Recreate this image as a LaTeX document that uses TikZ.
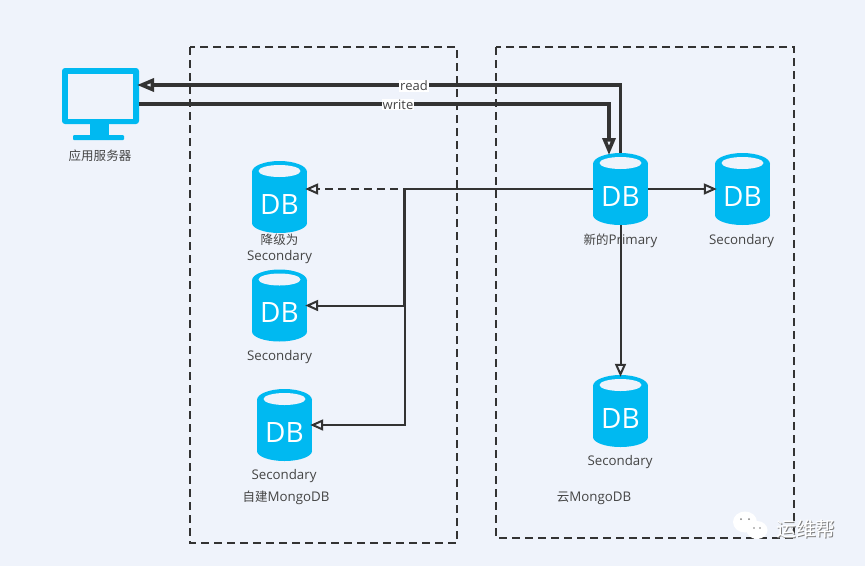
\documentclass[tikz,border=0pt]{standalone}
\usepackage{fontspec}
\setmainfont{Open Sans}
\newfontfamily\cjk[Scale=0.94]{Noto Sans CJK SC}
\usepackage{tikz}
\usetikzlibrary{arrows.meta, positioning}
\definecolor{bgcol}{HTML}{EFF3FB}
\definecolor{dbcol}{HTML}{00B9F1}
\definecolor{linecol}{HTML}{333333}
\definecolor{txtcol}{HTML}{444444}
\tikzset{
  dbnode/.style={rectangle, inner sep=0pt, minimum width=55pt, minimum height=72pt, text=white,
    font=\fontsize{28}{28}\selectfont},
  lbl/.style={inner sep=0pt, text=txtcol, font=\fontsize{13.3}{15.5}\selectfont, align=center},
  zonebox/.style={linecol, line width=2pt, dash pattern=on 8pt off 5pt},
  thickline/.style={linecol, line width=3.5pt},
  thinline/.style={linecol, line width=2pt},
  bigtip/.style={-{Triangle[open, length=17pt, width=13pt, line width=3.5pt]}, shorten >=-2pt},
  smalltip/.style={-{Triangle[open, length=13pt, width=11pt, line width=2pt]}, shorten >=-2pt},
  linelbl/.style={fill=white, inner sep=1pt, text=txtcol, font=\fontsize{13}{13}\selectfont},
}
% cylinder with its DB text, as a named node
\newcommand{\dbcyl}[3]{
  \begin{scope}[shift={(#2,#3)}]
    \fill[dbcol] (-27.5,-25) rectangle (27.5,26);
    \fill[dbcol] (0,-25) ellipse [x radius=27.5, y radius=11];
    \fill[dbcol] (0,26) ellipse [x radius=27.5, y radius=10];
    \fill[bgcol] (0,-26) ellipse [x radius=21, y radius=6];
  \end{scope}
  \node[dbnode] (#1) at (#2,#3) {\raisebox{-17pt}[0pt][0pt]{DB}};
}
\begin{document}
\begin{tikzpicture}[x=1pt, y=-1pt]
    % Background
    \fill[bgcol] (0,0) rectangle (865,566);

    % Zones
    \draw[zonebox] (190,47) rectangle (457,543);
    \draw[zonebox] (496,47) rectangle (794,538);

    % Application server
    \fill[dbcol] (90,120) rectangle (109,137);
    \fill[dbcol, rounded corners=1pt] (73,135) rectangle (124,140);
    \node[rectangle, inner sep=0pt, minimum width=77pt, minimum height=56pt, fill=dbcol, rounded corners=3pt] (appsrv) at (100.5,96) {};
    \fill[bgcol] (67.5,74) rectangle (133,119);
    \node[lbl] (appsrvlbl) at (100,156) {\cjk 应用服务器};

    % Self-hosted databases
    \dbcyl{demoted}{279.5}{197}
    \node[lbl] (demotedlbl) at (279.5,249) {{\cjk 降级为}\\Secondary};
    \dbcyl{selfa}{279.5}{305.5}
    \node[lbl] (selfalbl) at (279.5,357) {Secondary};
    \dbcyl{selfb}{284.5}{425}
    \node[lbl] (selfblbl) at (284,476) {Secondary};
    \node[lbl] (selflbl) at (286,498) {{\cjk 自建}MongoDB};

    % Cloud databases
    \dbcyl{primary}{620.5}{189}
    \node[lbl] (primarylbl) at (620.5,241) {{\cjk 新的}Primary};
    \dbcyl{cloudr}{742.5}{189}
    \node[lbl] (cloudrlbl) at (741.5,241) {Secondary};
    \dbcyl{cloudb}{620.5}{411}
    \node[lbl] (cloudblbl) at (620,462) {Secondary};
    \node[lbl] (cloudlbl) at (594,498) {{\cjk 云}MongoDB};

    % Read and write
    \coordinate (readend) at (139,85);
    \coordinate (writestart) at (139,104);
    \coordinate (writeend) at (609,153);
    \draw[thickline, bigtip] (primary.north) |- (readend);
    \draw[thickline, bigtip] (writestart) -| (writeend);
    \node[linelbl] (readlbl) at (414,85.5) {read};
    \node[linelbl] (writelbl) at (398,104.5) {write};

    % Replication
    \coordinate (busa) at (404,189);
    \coordinate (busb) at (405,189);
    \draw[thinline, smalltip, dash pattern=on 8pt off 5pt] (primary.west) -- (demoted.east |- primary.west);
    \draw[thickline, line width=2pt, smalltip] (primary.west) -- (busa) |- (selfa.east);
    \draw[thinline, smalltip] (primary.west) -- (busb) |- (selfb.east);
    \draw[thinline, smalltip] (primary.east) -- (cloudr.west);
    \draw[thinline, smalltip] (primary.south) -- (cloudb.north);

    % Watermark
    \fill[white] (745,522) ellipse [x radius=12, y radius=10.5];
    \fill[white] (757,530) ellipse [x radius=10.5, y radius=9];
    \fill[gray] (741,519) circle (1) (749,519) circle (1) (754,528) circle (0.8) (760,528) circle (0.8);
    \node[inner sep=0pt, text=gray, font=\fontsize{21}{21}\selectfont] (markshadow) at (807,530) {\cjk 运维帮};
    \node[inner sep=0pt, text=white, font=\fontsize{21}{21}\selectfont] (marklbl) at (806,529) {\cjk 运维帮};
\end{tikzpicture}
\end{document}
